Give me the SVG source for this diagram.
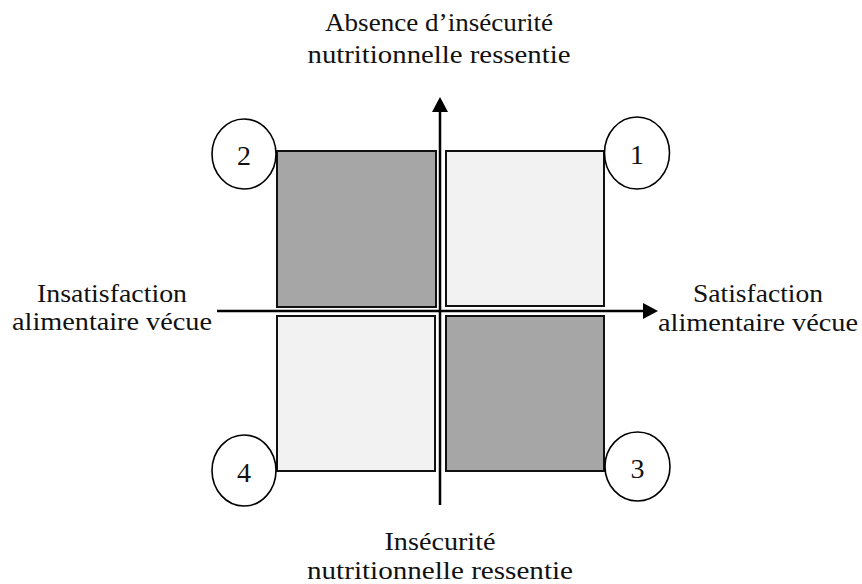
<svg xmlns="http://www.w3.org/2000/svg" width="862" height="584" viewBox="0 0 862 584">
  <style>
    .lbl { font-family: "Liberation Serif", "DejaVu Serif", serif; font-size: 26px; fill: #111; text-anchor: middle; }
    .num { font-family: "Liberation Serif", "DejaVu Serif", serif; font-size: 28px; fill: #111; text-anchor: middle; }
    .box { stroke: #111; stroke-width: 2; }
    .dark { fill: #a6a6a6; }
    .light { fill: #f2f2f2; }
    .circ { fill: #fff; stroke: #000; stroke-width: 1.6; }
    .axis { stroke: #000; stroke-width: 2.5; fill: none; }
  </style>
  <defs>
    <marker id="arrow" viewBox="0 0 15 16" refX="0" refY="8" markerWidth="15" markerHeight="16" markerUnits="userSpaceOnUse" orient="auto">
      <path d="M0,0 L15,8 L0,16 Z" fill="#000"/>
    </marker>
  </defs>

  <g id="q2"><rect class="box dark" x="277" y="151" width="159" height="156"/></g>
  <g id="q1"><rect class="box light" x="446" y="151" width="158" height="155"/></g>
  <g id="q4"><rect class="box light" x="277" y="316" width="158" height="155"/></g>
  <g id="q3"><rect class="box dark" x="446" y="316" width="158" height="155"/></g>

  <g id="connectors">
    <path class="axis" d="M440,505 L440,112" marker-end="url(#arrow)"/>
    <path class="axis" d="M217,311 L643,311" marker-end="url(#arrow)"/>
  </g>

  <g id="badge2"><ellipse class="circ" cx="244" cy="154" rx="32" ry="35"/><text class="num" x="244" y="165">2</text></g>
  <g id="badge1"><ellipse class="circ" cx="637" cy="153" rx="32.5" ry="36"/><text class="num" x="637" y="164">1</text></g>
  <g id="badge4"><ellipse class="circ" cx="244" cy="470.5" rx="32" ry="35.5"/><text class="num" x="244" y="482">4</text></g>
  <g id="badge3"><ellipse class="circ" cx="637.5" cy="466.5" rx="32.5" ry="34.5"/><text class="num" x="637.5" y="478">3</text></g>

  <g id="label-top">
    <text class="lbl" x="439" y="31" textLength="228" lengthAdjust="spacingAndGlyphs">Absence d’insécurité</text>
    <text class="lbl" x="439" y="63" textLength="263" lengthAdjust="spacingAndGlyphs">nutritionnelle ressentie</text>
  </g>
  <g id="label-bottom">
    <text class="lbl" x="440" y="550" textLength="111" lengthAdjust="spacingAndGlyphs">Insécurité</text>
    <text class="lbl" x="440" y="579" textLength="266" lengthAdjust="spacingAndGlyphs">nutritionnelle ressentie</text>
  </g>
  <g id="label-left">
    <text class="lbl" x="112" y="302" textLength="150" lengthAdjust="spacingAndGlyphs">Insatisfaction</text>
    <text class="lbl" x="112" y="330" textLength="200" lengthAdjust="spacingAndGlyphs">alimentaire vécue</text>
  </g>
  <g id="label-right">
    <text class="lbl" x="758" y="302" textLength="130" lengthAdjust="spacingAndGlyphs">Satisfaction</text>
    <text class="lbl" x="758" y="331" textLength="200" lengthAdjust="spacingAndGlyphs">alimentaire vécue</text>
  </g>
</svg>
